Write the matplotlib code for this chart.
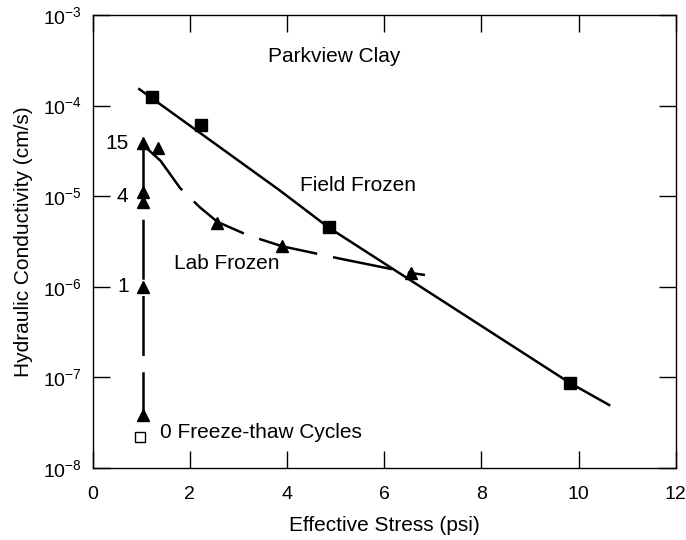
import numpy as np
import matplotlib
matplotlib.use("Agg")
import matplotlib.pyplot as plt
from matplotlib.ticker import FixedLocator, FuncFormatter

plt.rcParams['font.family'] = ['Liberation Sans', 'DejaVu Sans']

# field frozen samples (squares)
field_x = [1.22, 2.24, 4.86, 9.82]
field_k = [1.24e-4, 6.1e-5, 4.6e-6, 8.7e-8]
# field frozen trend line
field_line_x = [0.96, 3.84, 4.86, 9.82, 10.63]
field_line_k = [1.52e-4, 1.17e-5, 4.5e-6, 8.7e-8, 4.96e-8]

# lab frozen, vertical set at 1 psi (freeze-thaw cycles 15, 4, 1, 0)
lab_v_x = [1.03, 1.03, 1.03, 1.03, 1.03]
lab_v_k = [3.86e-5, 1.11e-5, 8.6e-6, 1.0e-6, 3.85e-8]
# lab frozen, consolidation after 15 cycles
lab_x = [1.35, 2.57, 3.90, 6.55]
lab_k = [3.4e-5, 5.06e-6, 2.8e-6, 1.42e-6]
lab_line_x = [1.04, 1.40, 1.80, 2.20, 2.57, 3.20, 3.90, 5.12, 6.55, 6.84]
lab_line_k = [3.67e-5, 2.45e-5, 1.23e-5, 7.6e-6, 5.2e-6, 3.7e-6, 2.8e-6, 2.03e-6, 1.42e-6, 1.35e-6]

# unfrozen sample
unfrozen_x = [0.98]
unfrozen_k = [2.2e-8]

cycle_labels = ["15", "4", "1"]
cycle_k = [3.86e-5, 1.0e-5, 1.0e-6]

fig = plt.figure(figsize=(6.86, 5.40), dpi=100)
ax = fig.add_axes([0.135, 0.1333, 0.850, 0.839])

dash = (0, (24, 6.5))
ax.plot(field_line_x, field_line_k, color='black', lw=1.8, zorder=2)
ax.plot(field_x, field_k, 's', color='black', ms=8.5, zorder=3)

ax.plot(lab_v_x, lab_v_k, color='black', lw=1.8, linestyle=dash, zorder=2)
ax.plot(lab_v_x, lab_v_k, '^', color='black', ms=9, zorder=3)
ax.plot(lab_line_x, lab_line_k, color='black', lw=1.8, linestyle=dash, zorder=2)
ax.plot(lab_x, lab_k, '^', color='black', ms=9, zorder=3)

ax.plot(unfrozen_x, unfrozen_k, 's', mfc='white', mec='black', mew=1, ms=7, zorder=3)

ax.set_yscale('log')
ax.set_xlim(0, 12)
ax.set_ylim(1e-8, 1e-3)

ax.xaxis.set_major_locator(FixedLocator([0, 2, 4, 6, 8, 10, 12]))
ax.yaxis.set_major_locator(FixedLocator([1e-8, 1e-7, 1e-6, 1e-5, 1e-4, 1e-3]))
ax.yaxis.set_minor_locator(FixedLocator([]))
ax.yaxis.set_major_formatter(FuncFormatter(
    lambda v, p: r'$\mathregular{10^{%d}}$' % int(round(np.log10(v)))))

ax.tick_params(direction='in', length=12, width=1, top=True, right=True,
               labelsize=14, pad=8)
ax.tick_params(axis='x', pad=13)
for s in ax.spines.values():
    s.set_linewidth(1)

ax.set_xlabel('Effective Stress (psi)', fontsize=15, labelpad=9)
ax.set_ylabel('Hydraulic Conductivity (cm/s)', fontsize=15, labelpad=7)

ax.text(4.98, 10**-3.46, 'Parkview Clay', fontsize=15, ha='center', va='center')
ax.text(5.47, 10**-4.88, 'Field Frozen', fontsize=15, ha='center', va='center')
ax.text(2.76, 10**-5.74, 'Lab Frozen', fontsize=15, ha='center', va='center')
ax.text(1.39, 10**-7.61, '0 Freeze-thaw Cycles', fontsize=15, ha='left', va='center')
for lab, k in zip(cycle_labels, cycle_k):
    ax.text(0.74, k, lab, fontsize=15, ha='right', va='center')

fig.savefig('out.png', dpi=100)
